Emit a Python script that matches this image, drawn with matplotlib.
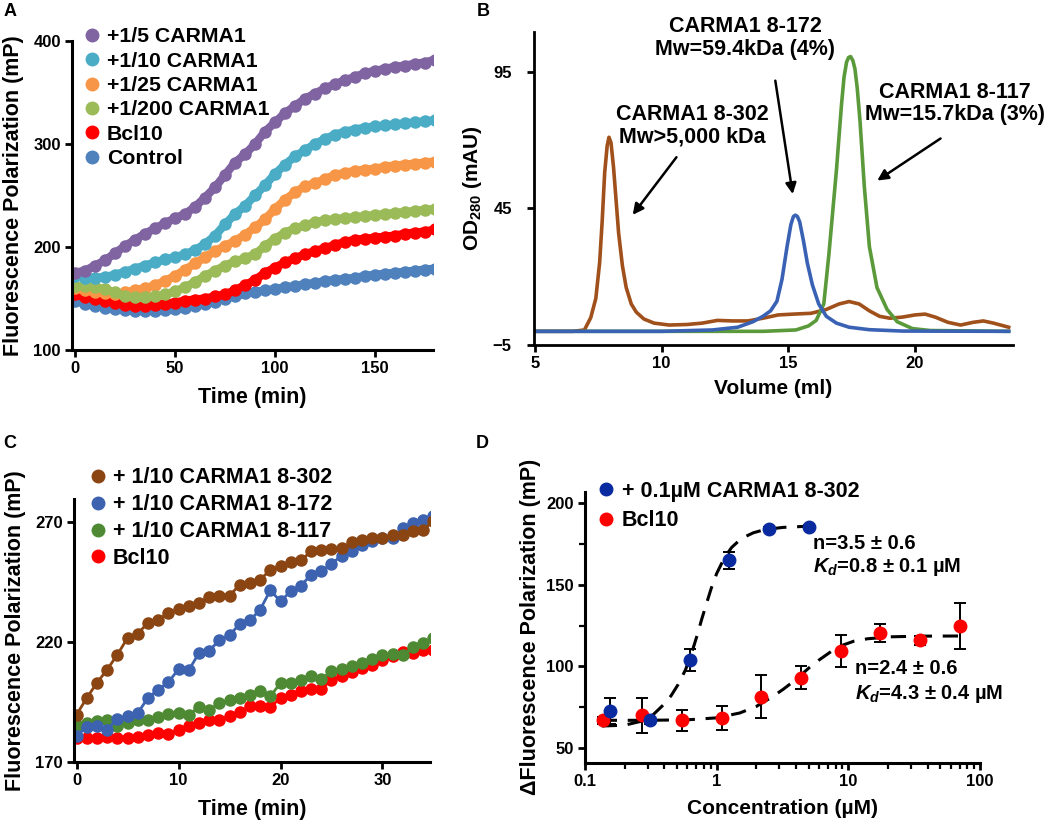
import numpy as np
import matplotlib
matplotlib.use("Agg")
import matplotlib.pyplot as plt
from matplotlib.lines import Line2D
from matplotlib.ticker import MultipleLocator, LogLocator, FixedLocator, NullFormatter

plt.rcParams['font.family'] = ['Liberation Sans', 'DejaVu Sans']
plt.rcParams['font.weight'] = 'bold'
plt.rcParams['mathtext.fontset'] = 'custom'
plt.rcParams['mathtext.rm'] = 'Liberation Sans:bold'
plt.rcParams['mathtext.bf'] = 'Liberation Sans:bold'
plt.rcParams['mathtext.it'] = 'Liberation Sans:italic:bold'

# ---------------- Panel A data (time course, every 5 min) ----------------
time_a = list(range(0, 181, 5))
a_fifth = [175, 177, 182, 187, 194, 201, 207, 213, 218, 223, 228, 232, 239, 248, 258, 270, 282, 290,
           300, 312, 321, 330, 337, 344, 349, 354, 358, 362, 365, 369, 371, 373, 375, 376, 378, 379, 382]
a_tenth = [172, 170, 170, 171, 173, 176, 179, 182, 185, 188, 190, 193, 197, 203, 211, 222, 232, 240,
           250, 260, 271, 280, 288, 294, 300, 305, 309, 312, 314, 316, 317, 318, 319, 320, 321, 322, 323]
a_25th = [160, 158, 156, 155, 154, 156, 158, 160, 163, 167, 172, 178, 184, 190, 196, 201, 206, 212,
          219, 227, 237, 246, 253, 259, 262, 266, 270, 272, 274, 275, 276, 278, 279, 280, 281, 282, 283]
a_200th = [162, 162, 161, 159, 156, 152, 151, 151, 152, 154, 157, 161, 166, 172, 177, 182, 186, 189,
           193, 201, 208, 214, 218, 221, 224, 226, 227, 228, 229, 230, 231, 232, 233, 234, 235, 236, 237]
a_bcl10 = [154, 151, 150, 148, 146, 144, 143, 143, 144, 145, 146, 148, 149, 150, 152, 154, 158, 163,
           168, 175, 180, 185, 189, 193, 196, 199, 202, 205, 207, 208, 209, 210, 211, 213, 214, 215, 217]
a_control = [148, 145, 143, 141, 140, 139, 138, 138, 138, 139, 140, 141, 143, 145, 147, 150, 152, 155,
             156, 158, 159, 161, 162, 164, 165, 167, 168, 169, 170, 172, 173, 174, 175, 176, 177, 178, 179]

# ---------------- Panel B data (gel filtration traces) ----------------
b302_ml = [5.0, 6.5, 6.95, 7.2, 7.4, 7.55, 7.65, 7.75, 7.85, 7.92, 8.0, 8.1, 8.2, 8.3, 8.45, 8.6, 8.8,
           9.0, 9.3, 9.7, 10.3, 11.0, 11.6, 12.2, 12.8, 13.4, 14.0, 14.6, 15.2, 15.9, 16.5, 17.0, 17.4,
           17.8, 18.2, 18.6, 19.0, 19.5, 20.0, 20.4, 20.8, 21.3, 21.8, 22.3, 22.7, 23.1, 23.7]
b302_od = [0, 0, 0.5, 5, 12, 25, 40, 58, 68, 71, 69, 60, 48, 36, 24, 16, 10,
           7, 4.5, 3, 2.3, 2.5, 3, 4, 3.8, 3.8, 4.8, 6, 6.3, 6.6, 8, 10, 10.9,
           10, 7.5, 5.5, 4.8, 5.2, 6, 6.3, 5.2, 3.3, 2.3, 3.3, 3.8, 3, 1.5]
b172_ml = [5.0, 10.0, 12.0, 13.0, 13.6, 14.0, 14.3, 14.55, 14.75, 14.95, 15.1, 15.2, 15.28, 15.36, 15.45,
           15.6, 15.75, 15.95, 16.2, 16.5, 16.9, 17.4, 18.2, 19.5, 23.7]
b172_od = [0, 0, 0.5, 1.5, 3.5, 5.5, 7.5, 11, 19, 31, 39, 42, 42.5, 42, 40,
           33, 25, 17, 10, 5.5, 3, 1.5, 0.6, 0.1, 0]
b117_ml = [5.0, 14.0, 15.3, 15.8, 16.1, 16.4, 16.6, 16.9, 17.1, 17.2, 17.3, 17.38, 17.46, 17.55, 17.63,
           17.72, 17.83, 18.0, 18.2, 18.5, 18.9, 19.3, 19.9, 20.6, 23.7]
b117_od = [0, 0, 0.5, 2, 4, 10, 28, 59, 83, 93, 98.5, 100.2, 100.5, 99, 96,
           89, 77, 53, 31, 16, 8, 3.5, 1, 0.3, 0]

# ---------------- Panel C data (time course, every min) ----------------
time_c = list(range(0, 36))
c_302 = [189.7, 196.7, 203, 208.5, 214.7, 221.7, 223.5, 228, 229.3, 232, 233.7, 234.9, 236.3, 238.8,
         239.3, 239.3, 243.9, 244.6, 246, 250, 251.8, 253.2, 254, 257.8, 258.5, 258.8, 259.2, 261.5,
         262.4, 263.3, 263.3, 264.7, 264.7, 266.1, 266.8, 270.3]
c_172 = [181, 184.6, 185.1, 183.5, 187.9, 189.3, 190.4, 196.7, 200.1, 203.2, 208.7, 208.2, 215.4, 216.4,
         220.7, 222.8, 227.6, 229, 233.5, 241.5, 237, 241.1, 243.5, 248, 249.4, 252.6, 256, 257.8,
         260.6, 262, 263.3, 263.3, 267.5, 269.6, 271, 272.4]
c_117 = [185.6, 186.3, 187, 187.6, 185.1, 186.3, 187.4, 187.6, 188.6, 190.1, 190.4, 189.7, 192.9, 191.5,
         194.6, 195.7, 196.7, 198.1, 199.4, 197.4, 202.9, 202.9, 204.3, 205.7, 204.6, 207.8, 208.8,
         210.1, 211.3, 212.9, 214.4, 215, 214.6, 217.9, 219.6, 221.7]
c_bcl10 = [180, 180, 180, 180.3, 180, 180, 180.3, 181.4, 182.1, 181.8, 183.2, 185.1, 186.3, 187.4, 187.6,
           189, 190.7, 193.2, 193.5, 192.9, 196.7, 198.1, 199.4, 200.4, 200.4, 204.3, 205.7, 207.4,
           209.2, 210.6, 212.4, 214, 215.7, 215.4, 216.5, 216.8]

# ---------------- Panel D data (titration) ----------------
d_carma_conc = [0.156, 0.3125, 0.625, 1.25, 2.5, 5.0]
d_carma_fp = [72.5, 67, 104, 165, 184.5, 185.5]
d_carma_err = [8, 2, 6.5, 5, 1, 1]
d_bcl_conc = [0.137, 0.273, 0.547, 1.09, 2.19, 4.38, 8.75, 17.5, 35, 70]
d_bcl_fp = [67, 70, 67, 68.5, 81.5, 93, 109.5, 120.5, 116, 125]
d_bcl_err = [2, 10.5, 6.5, 7.5, 13, 7, 10, 5.5, 3, 14]
d_carma_fit_x = [0.134, 0.2, 0.27, 0.33, 0.4, 0.45, 0.51, 0.58, 0.65, 0.71, 0.77, 0.84, 0.91, 1.0,
                 1.15, 1.3, 1.54, 1.9, 2.33, 3.2, 4.9]
d_carma_fit_y = [63.5, 64, 66.5, 70.5, 77, 82, 89, 98, 109, 119, 129, 139, 148, 157,
                 167, 173, 178.5, 182, 184, 185.3, 186]
d_bcl_fit_x = [0.134, 0.3, 0.6, 1.0, 1.5, 2.0, 2.6, 3.2, 4.0, 5.0, 6.0, 7.5, 9.0, 11, 14, 21, 35, 70]
d_bcl_fit_y = [67, 67, 67.3, 68.5, 71.5, 75.5, 81, 86, 92, 99, 104, 109.5, 113, 115.5, 117, 118.2, 118.6, 118.7]

# colours
purple, aqua, orange, olive = "#8064A2", "#4BACC6", "#F79646", "#9BBB59"
red, ctrl_blue = "#FF0000", "#4F81BD"
brown, mid_blue, green = "#8B4513", "#3C62B0", "#4E8A34"
brown_b, blue_b, green_b = "#A0501A", "#3A62B4", "#5B9A3A"
dark_blue = "#0A2BA0"

fig = plt.figure(figsize=(10.5, 8.24), dpi=100)
W, H = 1050.0, 824.0


def axes_px(left, top, right, bottom):
    return fig.add_axes([left / W, 1 - bottom / H, (right - left) / W, (bottom - top) / H])


def style(ax, lw=2.2):
    for s in ["top", "right"]:
        ax.spines[s].set_visible(False)
    for s in ["left", "bottom"]:
        ax.spines[s].set_linewidth(lw)
    ax.tick_params(direction="out", length=5, width=2, labelsize=12, pad=3)
    for lab in ax.get_xticklabels() + ax.get_yticklabels():
        lab.set_fontweight("bold")


def dot_handle(c):
    return Line2D([], [], marker="o", ls="none", color=c, markersize=9)


# ---------------- A ----------------
axA = axes_px(72, 41, 433, 350)
series_a = [(a_control, ctrl_blue), (a_bcl10, red), (a_25th, orange), (a_200th, olive),
            (a_tenth, aqua), (a_fifth, purple)]
for vals, c in series_a:
    axA.plot(time_a, vals, "-o", color=c, lw=6, ms=8, solid_capstyle="round")
axA.set_xlim(-1.5, 179)
axA.set_ylim(100, 400)
axA.set_xticks([0, 50, 100, 150])
axA.set_yticks([100, 200, 300, 400])
style(axA)
axA.set_xlabel("Time (min)", fontsize=15.5, fontweight="bold", labelpad=8)
axA.set_ylabel("Fluorescence Polarization (mP)", fontsize=15.5, fontweight="bold", labelpad=7)
labels_a = ["+1/5 CARMA1", "+1/10 CARMA1", "+1/25 CARMA1", "+1/200 CARMA1", "Bcl10", "Control"]
cols_a = [purple, aqua, orange, olive, red, ctrl_blue]
axA.legend([dot_handle(c) for c in cols_a], labels_a, loc="upper left", bbox_to_anchor=(0.038, 1.044),
           frameon=False, handlelength=0.6, handletextpad=0.4, labelspacing=0.25,
           borderaxespad=0, borderpad=0, prop={"weight": "bold", "size": 15.3})

# ---------------- B ----------------
axB = axes_px(534, 32, 1013, 345)
axB.plot(b302_ml, b302_od, color=brown_b, lw=2.6)
axB.plot(b117_ml, b117_od, color=green_b, lw=2.6)
axB.plot(b172_ml, b172_od, color=blue_b, lw=2.6)
axB.set_xlim(4.96, 23.87)
axB.set_ylim(-5, 109.5)
axB.set_xticks([5, 10, 15, 20])
axB.set_yticks([-5, 45, 95])
style(axB, lw=2)
axB.tick_params(axis="y", pad=11)
axB.set_xlabel("Volume (ml)", fontsize=15, fontweight="bold", labelpad=6)
axB.set_ylabel("OD$_{280}$ (mAU)", fontsize=15, fontweight="bold", labelpad=6)
arrow = dict(arrowstyle="-|>", color="black", lw=1.8, mutation_scale=16)
ann_kw = dict(ha="center", va="center", fontsize=15.5, fontweight="bold", linespacing=1.1)
axB.annotate("", xy=(8.79, 41.8), xytext=(10.65, 64.5), arrowprops=arrow)
axB.text(11.2, 75.3, "CARMA1 8-302\nMw>5,000 kDa", **ann_kw)
axB.annotate("", xy=(15.19, 49.2), xytext=(14.47, 92.7), arrowprops=arrow)
axB.text(13.3, 107.2, "CARMA1 8-172\nMw=59.4kDa (4%)", **ann_kw)
axB.annotate("", xy=(18.42, 54.6), xytext=(21.1, 71.1), arrowprops=arrow)
axB.text(21.58, 83.4, "CARMA1 8-117\nMw=15.7kDa (3%)", **ann_kw)

# ---------------- C ----------------
axC = axes_px(74, 499, 430, 762)
for vals, c in [(c_bcl10, red), (c_117, green), (c_172, mid_blue), (c_302, brown)]:
    axC.plot(time_c, vals, "-o", color=c, lw=2, ms=8)
axC.set_xlim(-0.25, 34.66)
axC.set_ylim(170, 279.6)
axC.set_xticks([0, 10, 20, 30])
axC.set_yticks([170, 220, 270])
style(axC)
axC.set_xlabel("Time (min)", fontsize=15.5, fontweight="bold", labelpad=8)
axC.set_ylabel("Fluorescence Polarization (mP)", fontsize=15.5, fontweight="bold", labelpad=7)
labels_c = ["+ 1/10 CARMA1 8-302", "+ 1/10 CARMA1 8-172", "+ 1/10 CARMA1 8-117", "Bcl10"]
axC.legend([dot_handle(c) for c in [brown, mid_blue, green, red]], labels_c, loc="upper left",
           bbox_to_anchor=(0.048, 1.12), frameon=False, handlelength=0.6, handletextpad=0.4,
           labelspacing=0.27, borderaxespad=0, borderpad=0, prop={"weight": "bold", "size": 15.5})

# ---------------- D ----------------
axD = axes_px(585, 492, 980, 762.7)
axD.set_xscale("log")
axD.plot(d_carma_fit_x, d_carma_fit_y, color="black", lw=2.2, dashes=(5, 3.5))
axD.plot(d_bcl_fit_x, d_bcl_fit_y, color="black", lw=2.2, dashes=(5, 3.5))
axD.errorbar(d_bcl_conc, d_bcl_fp, yerr=d_bcl_err, fmt="o", color=red, ecolor="black",
             elinewidth=1.4, capsize=4, capthick=1.4, ms=9)
axD.errorbar(d_carma_conc, d_carma_fp, yerr=d_carma_err, fmt="o", color=dark_blue, ecolor="black",
             elinewidth=1.4, capsize=4, capthick=1.4, ms=9)
axD.set_xlim(0.1, 100)
axD.set_ylim(41, 207)
axD.xaxis.set_major_locator(FixedLocator([0.1, 1, 10, 100]))
axD.set_xticklabels(["0.1", "1", "10", "100"])
axD.xaxis.set_minor_locator(LogLocator(base=10, subs=np.arange(2, 10)))
axD.xaxis.set_minor_formatter(NullFormatter())
axD.set_yticks([50, 100, 150, 200])
axD.yaxis.set_minor_locator(MultipleLocator(25))
style(axD)
axD.tick_params(which="minor", direction="out", length=4, width=1.6)
axD.set_xlabel("Concentration (µM)", fontsize=15, fontweight="bold", labelpad=7)
axD.set_ylabel("ΔFluorescence Polarization (mP)", fontsize=15.5, fontweight="bold", labelpad=4)
axD.legend([dot_handle(dark_blue), dot_handle(red)], ["+ 0.1µM CARMA1 8-302", "Bcl10"],
           loc="upper left", bbox_to_anchor=(0.038, 1.041), frameon=False, handlelength=0.6,
           handletextpad=0.4, labelspacing=0.38, borderaxespad=0, borderpad=0,
           prop={"weight": "bold", "size": 15.5})
txt_kw = dict(transform=axD.transAxes, fontsize=14.5, fontweight="bold", va="center")
axD.text(0.577, 0.809, "n=3.5 ± 0.6", **txt_kw)
axD.text(0.577, 0.723, "$K_d$=0.8 ± 0.1 µM", **txt_kw)
axD.text(0.684, 0.347, "n=2.4 ± 0.6", **txt_kw)
axD.text(0.684, 0.255, "$K_d$=4.3 ± 0.4 µM", **txt_kw)

# panel letters
for letter, x, y in [("A", 10, 12), ("B", 483, 12), ("C", 10, 444), ("D", 482, 444)]:
    fig.text(x / W, 1 - y / H, letter, fontsize=13, fontweight="bold", ha="center", va="center")

fig.savefig("out.png", dpi=100)
